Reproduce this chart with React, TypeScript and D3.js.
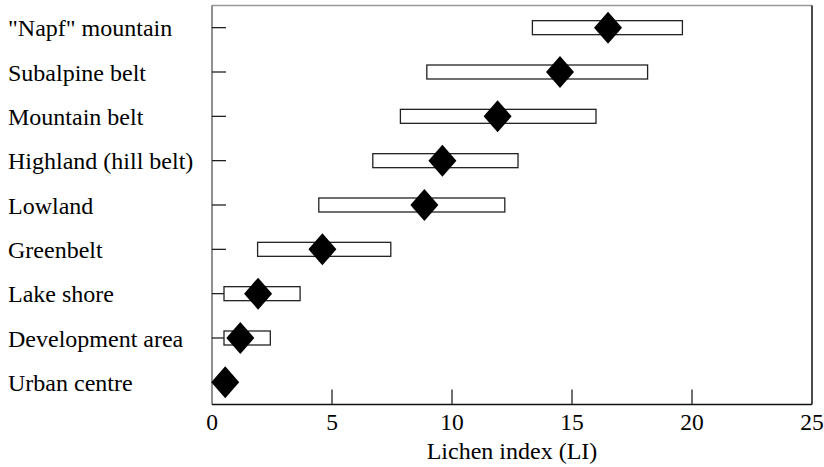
import React from "react";
import * as d3 from "d3";

const categories = [
  '"Napf" mountain',
  "Subalpine belt",
  "Mountain belt",
  "Highland (hill belt)",
  "Lowland",
  "Greenbelt",
  "Lake shore",
  "Development area",
  "Urban centre",
];
const rangeMin: (number | null)[] = [13.35, 8.95, 7.85, 6.7, 4.45, 1.9, 0.5, 0.5, null];
const rangeMax: (number | null)[] = [19.6, 18.15, 16.0, 12.75, 12.2, 7.45, 3.67, 2.43, null];
const meanValues = [16.5, 14.5, 11.9, 9.6, 8.85, 4.6, 1.92, 1.18, 0.55];
const xTicks = [0, 5, 10, 15, 20, 25];
const xTitle = "Lichen index (LI)";

const W = 824;
const H = 467;
const left = 212;
const right = 812;
const top = 5.5;
const bottom = 404.5;

export default function App() {
  const x = d3.scaleLinear().domain([0, 25]).range([left, right]);
  const y = d3.scaleBand<string>().domain(categories).range([top, bottom]).paddingInner(0).paddingOuter(0);
  const cy = (c: string) => (y(c) as number) + y.bandwidth() / 2;
  const boxH = 14;
  const dw = 14;
  const dh = 16;

  return (
    <svg width={W} height={H} style={{ position: "absolute", left: 0, top: 0 }}>
      <rect x={0} y={0} width={W} height={H} fill="#fff" />
      <line x1={left} y1={top} x2={right} y2={top} stroke="#999" strokeWidth={1.5} />
      <line x1={left} y1={top} x2={left} y2={bottom} stroke="#555" strokeWidth={1.3} />
      <line x1={right} y1={top} x2={right} y2={bottom} stroke="#111" strokeWidth={1.5} />
      <line x1={left} y1={bottom} x2={right} y2={bottom} stroke="#111" strokeWidth={1.5} />

      {categories.map((c) => (
        <line key={"t" + c} x1={left} x2={left + 14} y1={cy(c)} y2={cy(c)} stroke="#111" strokeWidth={1.2} />
      ))}
      {categories.map((c) => (
        <text
          key={"l" + c}
          x={8}
          y={cy(c) + 8.5}
          fontSize={24}
          fontFamily="Liberation Serif"
          style={{ fontFamily: '"Liberation Serif"' }}
        >
          {c}
        </text>
      ))}

      {xTicks.map((t) =>
        t > 0 && t < 25 ? (
          <line key={"xt" + t} x1={x(t)} x2={x(t)} y1={bottom} y2={bottom - 15} stroke="#111" strokeWidth={1.2} />
        ) : null
      )}
      {xTicks.map((t) => (
        <text
          key={"xl" + t}
          x={x(t)}
          y={430}
          fontSize={23.5}
          textAnchor="middle"
          fontFamily="Liberation Serif"
          style={{ fontFamily: '"Liberation Serif"' }}
        >
          {String(t)}
        </text>
      ))}
      <text
        x={(left + right) / 2}
        y={459}
        fontSize={24}
        textAnchor="middle"
        fontFamily="Liberation Serif"
        style={{ fontFamily: '"Liberation Serif"' }}
      >
        {xTitle}
      </text>

      {categories.map((c, i) => {
        const lo = rangeMin[i];
        const hi = rangeMax[i];
        if (lo == null || hi == null) return null;
        return (
          <rect
            key={"b" + c}
            x={x(lo)}
            y={cy(c) - boxH / 2}
            width={x(hi) - x(lo)}
            height={boxH}
            fill="#fff"
            stroke="#222"
            strokeWidth={1.3}
          />
        );
      })}

      {categories.map((c, i) => {
        const mx = x(meanValues[i]);
        const my = cy(c);
        const path = d3.path();
        path.moveTo(mx, my - dh);
        path.lineTo(mx + dw, my);
        path.lineTo(mx, my + dh);
        path.lineTo(mx - dw, my);
        path.closePath();
        return <path key={"d" + c} d={path.toString()} fill="#000" />;
      })}
    </svg>
  );
}
